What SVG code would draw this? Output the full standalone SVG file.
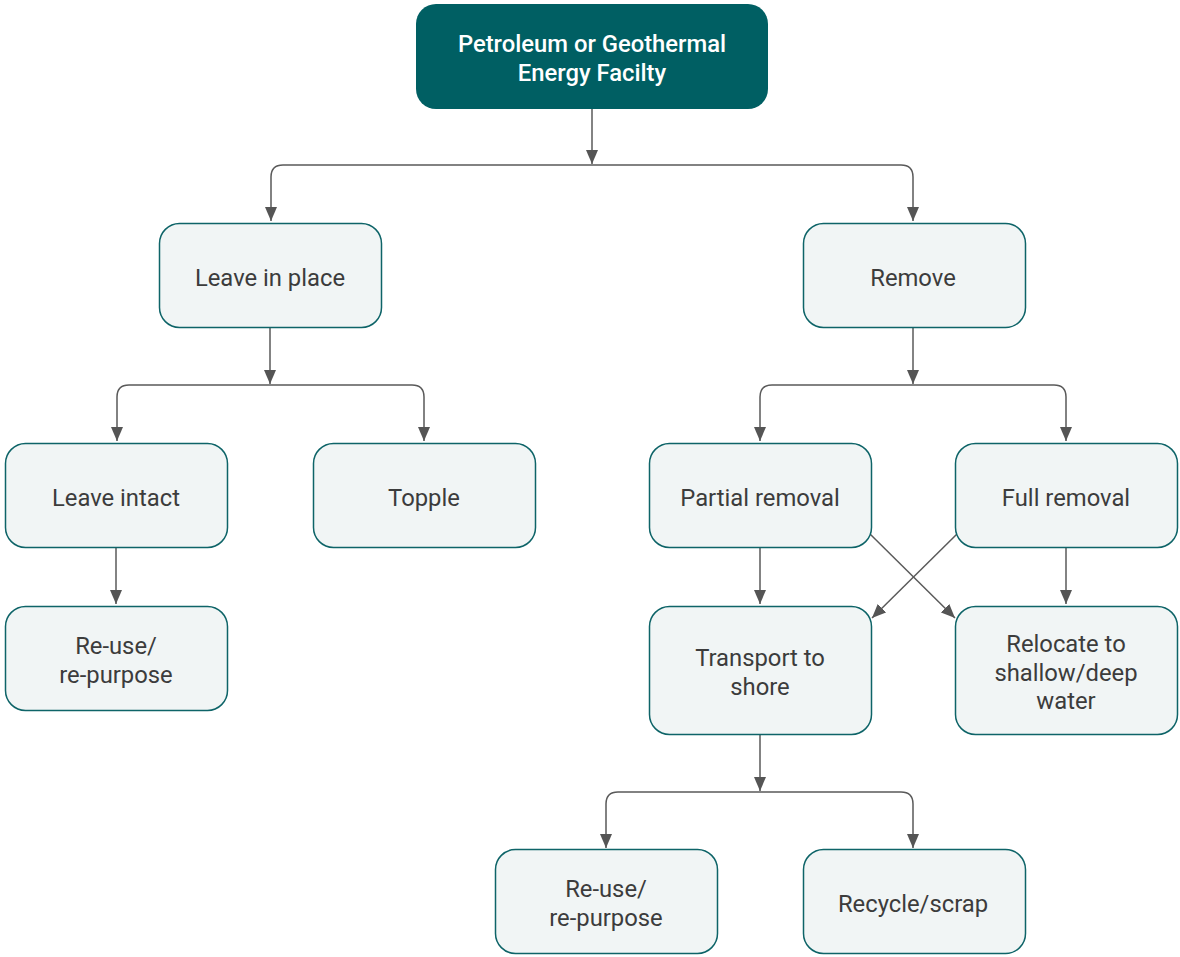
<svg xmlns="http://www.w3.org/2000/svg" width="1180" height="957" viewBox="0 0 1180 957">
<style>
.box{fill:#f1f5f5;stroke:#0e6468;stroke-width:1.5}
.top{fill:#005f63}
.t{font-family:Roboto,"Liberation Sans",sans-serif;font-size:23.8px;fill:#3c3c3c;text-anchor:middle}
.tw{font-family:Roboto,"Liberation Sans",sans-serif;font-size:23.8px;font-weight:500;fill:#ffffff;text-anchor:middle}
.c{fill:none;stroke:#5a5a5a;stroke-width:1.5}
</style>
<defs>
<marker id="ah" markerWidth="14" markerHeight="12" refX="14" refY="6" orient="auto" markerUnits="userSpaceOnUse" viewBox="0 0 14 12">
<path d="M0,0 L14,6 L0,12 Z" fill="#555555"/>
</marker>
</defs>
<rect width="1180" height="957" fill="#ffffff"/>
<g id="connectors">
<path class="c" d="M592,109 V164" marker-end="url(#ah)"/>
<path class="c" d="M592,165 H283 Q271,165 271,177 V221" marker-end="url(#ah)"/>
<path class="c" d="M592,165 H901 Q913,165 913,177 V221" marker-end="url(#ah)"/>
<path class="c" d="M270,328 V384" marker-end="url(#ah)"/>
<path class="c" d="M270,385 H129 Q117,385 117,397 V441" marker-end="url(#ah)"/>
<path class="c" d="M270,385 H412 Q424,385 424,397 V441" marker-end="url(#ah)"/>
<path class="c" d="M913,328 V384" marker-end="url(#ah)"/>
<path class="c" d="M913,385 H772 Q760,385 760,397 V441" marker-end="url(#ah)"/>
<path class="c" d="M913,385 H1054 Q1066,385 1066,397 V441" marker-end="url(#ah)"/>
<path class="c" d="M116,548 V604" marker-end="url(#ah)"/>
<path class="c" d="M760,548 V604" marker-end="url(#ah)"/>
<path class="c" d="M1066,548 V604" marker-end="url(#ah)"/>
<path class="c" d="M870,534 L955,618" marker-end="url(#ah)"/>
<path class="c" d="M957,534 L872,618" marker-end="url(#ah)"/>
<path class="c" d="M760,735 V791" marker-end="url(#ah)"/>
<path class="c" d="M760,792 H618 Q606,792 606,804 V848" marker-end="url(#ah)"/>
<path class="c" d="M760,792 H901 Q913,792 913,804 V848" marker-end="url(#ah)"/>
</g>
<g id="n-facility">
<rect class="top" x="416" y="4" width="352" height="105" rx="20"/>
<text class="tw" x="592" y="52">Petroleum or Geothermal</text>
<text class="tw" x="592" y="81">Energy Facilty</text>
</g>
<g id="n-leave">
<rect class="box" x="159.5" y="223.5" width="222" height="104" rx="20"/>
<text class="t" x="270" y="286">Leave in place</text>
</g>
<g id="n-remove">
<rect class="box" x="803.5" y="223.5" width="222" height="104" rx="20"/>
<text class="t" x="913" y="286">Remove</text>
</g>
<g id="n-intact">
<rect class="box" x="5.5" y="443.5" width="222" height="104" rx="20"/>
<text class="t" x="116" y="506">Leave intact</text>
</g>
<g id="n-topple">
<rect class="box" x="313.5" y="443.5" width="222" height="104" rx="20"/>
<text class="t" x="424" y="506">Topple</text>
</g>
<g id="n-partial">
<rect class="box" x="649.5" y="443.5" width="222" height="104" rx="20"/>
<text class="t" x="760" y="506">Partial removal</text>
</g>
<g id="n-full">
<rect class="box" x="955.5" y="443.5" width="222" height="104" rx="20"/>
<text class="t" x="1066" y="506">Full removal</text>
</g>
<g id="n-reuse1">
<rect class="box" x="5.5" y="606.5" width="222" height="104" rx="20"/>
<text class="t" x="116" y="654">Re-use/</text>
<text class="t" x="116" y="683">re-purpose</text>
</g>
<g id="n-transport">
<rect class="box" x="649.5" y="606.5" width="222" height="128" rx="20"/>
<text class="t" x="760" y="666">Transport to</text>
<text class="t" x="760" y="695">shore</text>
</g>
<g id="n-relocate">
<rect class="box" x="955.5" y="606.5" width="222" height="128" rx="20"/>
<text class="t" x="1066" y="652">Relocate to</text>
<text class="t" x="1066" y="681">shallow/deep</text>
<text class="t" x="1066" y="709">water</text>
</g>
<g id="n-reuse2">
<rect class="box" x="495.5" y="849.5" width="222" height="104" rx="20"/>
<text class="t" x="606" y="897">Re-use/</text>
<text class="t" x="606" y="926">re-purpose</text>
</g>
<g id="n-recycle">
<rect class="box" x="803.5" y="849.5" width="222" height="104" rx="20"/>
<text class="t" x="913" y="912">Recycle/scrap</text>
</g>
</svg>
